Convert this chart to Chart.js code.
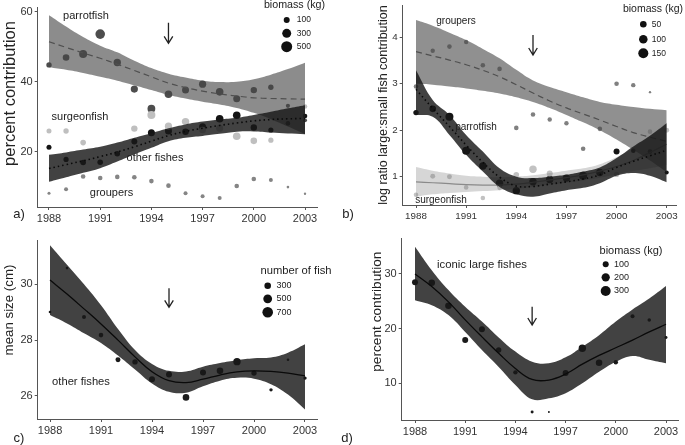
<!DOCTYPE html>
<html>
<head>
<meta charset="utf-8">
<script src="https://cdn.jsdelivr.net/npm/chart.js@4.4.0/dist/chart.umd.min.js"></script>
<style>
  body { margin: 0; background: #fff; width: 685px; height: 445px; overflow: hidden; position: relative; }
  canvas { position: absolute; left: 0; top: 0; }
</style>
</head>
<body>
<canvas id="a" width="685" height="445"></canvas>
<canvas id="b" width="685" height="445"></canvas>
<canvas id="c" width="685" height="445"></canvas>
<canvas id="d" width="685" height="445"></canvas>
<script>
// years and x ticks shared by all panels
const years = [1988, 1989, 1990, 1991, 1992, 1993, 1994, 1995, 1996, 1997, 1998, 1999, 2000, 2001, 2002, 2003];
const xTicks = [1988, 1991, 1994, 1997, 2000, 2003];

// a) percent contribution to biomass
const aParrot   = [44.8, 46.9, 47.9, 53.6, 45.5, 37.9, 32.3, 36.4, 37.6, 39.3, 37.1, 35.1, 37.6, 38.4, 33.1, 29.0];
const aParrotKg = [72, 132, 223, 357, 181, 168, 209, 195, 156, 168, 195, 156, 121, 72, 31, 26];
const aSurgeon   = [25.9, 25.9, 22.6, null, null, 26.6, 30.5, 27.3, 28.6, 26.2, 26.7, 24.4, 23.1, 23.3, null, 32.9];
const aSurgeonKg = [57, 72, 81, null, null, 121, 223, 168, 181, 132, 156, 195, 132, 64, null, 43];
const aOther   = [21.3, 17.8, 16.9, 17.0, 19.4, 22.9, 25.4, 25.9, 25.7, 27.1, 29.4, 30.4, 26.9, 26.2, 28.1, 30.2];
const aOtherKg = [57, 64, 81, 81, 81, 100, 156, 156, 132, 156, 195, 195, 121, 64, 43, 43];
const aGrouper   = [8.1, 9.3, 12.9, 12.5, 12.8, 12.7, 11.6, 10.3, 8.1, 7.3, 6.8, 10.2, 12.2, 11.9, 9.9, 8.0];
const aGrouperKg = [7, 26, 43, 43, 43, 43, 43, 43, 26, 26, 26, 43, 43, 26, 3, 1];
const aParrotFit = [51.4, 49.8, 48.2, 46.7, 45.0, 43.2, 41.4, 39.6, 38.3, 37.3, 36.5, 35.9, 35.4, 35.2, 35.1, 35.0];
const aParrotHi  = [59.0, 55.8, 52.8, 50.3, 48.4, 46.0, 43.9, 42.3, 41.2, 40.3, 39.9, 40.0, 40.7, 42.0, 43.6, 45.4];
const aParrotLo  = [44.1, 43.4, 42.5, 41.4, 40.3, 39.0, 37.6, 36.2, 35.2, 34.3, 33.5, 32.5, 31.1, 29.3, 27.2, 25.0];
const aOtherFit = [15.2, 16.3, 17.4, 18.6, 19.9, 21.4, 23.0, 24.6, 25.8, 26.7, 27.5, 28.2, 28.8, 29.2, 29.4, 29.5];
const aOtherHi  = [19.1, 19.8, 20.6, 21.4, 22.6, 24.0, 25.3, 26.7, 27.8, 28.6, 29.2, 29.7, 30.5, 31.4, 32.4, 33.3];
const aOtherLo  = [11.4, 12.7, 14.0, 15.3, 17.2, 19.2, 21.1, 23.0, 24.0, 24.5, 25.1, 25.7, 25.8, 25.5, 25.2, 25.0];
const aYTicks = [20, 40, 60];
const aLegend = [100, 300, 500];

// b) log ratio large:small fish
const bGrouper   = [2.94, 3.71, 3.80, 3.90, 3.40, 3.32, 2.05, 2.34, 2.23, 2.15, 1.60, 2.03, 3.00, 2.97, 2.82, null];
const bGrouperKg = [16, 14, 16, 14, 16, 16, 16, 16, 14, 14, 16, 16, 16, 14, 0.5, null];
const bParrot   = [2.38, 2.46, 2.29, 1.56, 1.23, 0.86, 0.70, 0.89, 0.94, 0.97, 1.02, 1.09, 1.54, 1.56, 1.54, 1.09];
const bParrotKg = [27, 50, 85, 85, 69, 69, 69, 69, 69, 69, 85, 69, 38, 16, 16, 10];
const bSurgeon   = [0.61, 1.01, 1.00, 0.77, 0.54, 0.76, 1.04, 1.16, 1.07, null, null, null, 1.05, null, 1.97, 2.00];
const bSurgeonKg = [16, 21, 21, 16, 16, 16, 31, 69, 38, null, null, null, 27, null, 16, 21];
const bGrouperFit = [3.69, 3.60, 3.51, 3.41, 3.29, 3.15, 2.98, 2.80, 2.63, 2.48, 2.35, 2.22, 2.08, 1.95, 1.85, 1.76];
const bGrouperHi  = [4.37, 4.25, 4.10, 3.94, 3.75, 3.55, 3.30, 3.07, 2.93, 2.82, 2.71, 2.61, 2.55, 2.50, 2.46, 2.43];
const bGrouperLo  = [3.00, 2.98, 2.94, 2.90, 2.85, 2.79, 2.71, 2.61, 2.48, 2.33, 2.17, 2.00, 1.80, 1.58, 1.35, 1.10];
const bParrotFit = [2.88, 2.47, 2.08, 1.68, 1.31, 0.99, 0.80, 0.79, 0.84, 0.89, 0.95, 1.04, 1.20, 1.33, 1.45, 1.57];
const bParrotHi  = [3.29, 2.65, 2.33, 1.90, 1.54, 1.18, 1.00, 0.97, 1.00, 1.04, 1.11, 1.20, 1.40, 1.65, 1.88, 2.15];
const bParrotLo  = [2.33, 2.29, 1.90, 1.47, 1.11, 0.78, 0.62, 0.57, 0.64, 0.71, 0.76, 0.86, 1.02, 1.08, 1.02, 0.88];
const bSurgeonFit = [0.89, 0.87, 0.85, 0.83, 0.82, 0.82, 0.84, 0.88, 0.93, 0.98, 1.04, 1.12, 1.22, 1.35, 1.52, 1.70];
const bSurgeonHi  = [1.21, 1.13, 1.07, 1.02, 1.00, 0.99, 1.00, 1.03, 1.08, 1.13, 1.18, 1.27, 1.42, 1.62, 1.88, 2.16];
const bSurgeonLo  = [0.57, 0.62, 0.65, 0.67, 0.69, 0.71, 0.74, 0.78, 0.83, 0.87, 0.92, 0.98, 1.05, 1.12, 1.18, 1.25];
const bYTicks = [1, 2, 3, 4];
const bLegend = [50, 100, 150];

// c) mean size of other fishes
const cSize = [29.01, 30.58, 28.83, 28.18, 27.30, 27.22, 26.60, 26.77, 25.95, 26.84, 26.90, 27.23, 26.82, 26.22, 27.30, 26.64];
const cFish = [67, 67, 129, 162, 186, 212, 254, 254, 300, 254, 300, 366, 212, 100, 67, 100];
const cFit = [30.15, 29.65, 29.12, 28.58, 28.00, 27.40, 26.87, 26.55, 26.48, 26.60, 26.75, 26.86, 26.90, 26.88, 26.82, 26.72];
const cHi  = [31.40, 30.70, 30.00, 29.25, 28.40, 27.65, 27.15, 26.90, 26.88, 27.05, 27.18, 27.28, 27.35, 27.38, 27.55, 27.85];
const cLo  = [28.90, 28.60, 28.25, 27.90, 27.45, 26.95, 26.45, 26.15, 26.12, 26.35, 26.55, 26.65, 26.62, 26.42, 26.05, 25.52];
const cYTicks = [26, 28, 30];
const cLegend = [300, 500, 700];

// d) iconic large fishes
const dPct = [28.47, 28.40, 24.20, 17.90, 19.87, 16.10, 12.00, 4.75, 4.75, 11.90, 16.40, 13.77, 13.84, 22.25, 21.57, 18.40];
const dKg  = [100, 123, 123, 100, 100, 79, 50, 20, 7, 100, 158, 123, 50, 40, 31, 20];
const dFit = [30.0, 27.7, 24.9, 21.6, 18.5, 15.5, 12.7, 10.7, 10.6, 11.7, 13.5, 15.1, 16.5, 17.9, 19.4, 20.8];
const dHi  = [35.0, 30.7, 27.05, 24.0, 21.3, 18.4, 15.8, 13.95, 13.66, 14.75, 16.7, 18.8, 21.3, 23.5, 25.5, 27.8];
const dLo  = [25.2, 24.3, 22.5, 19.4, 16.1, 13.0, 9.7, 7.07, 7.25, 8.2, 10.0, 12.1, 13.95, 15.0, 14.3, 13.66];
const dYTicks = [10, 20, 30];
const dLegend = [100, 200, 300];

const FONT = '"Liberation Sans", Arial, sans-serif';
const YW = 24, XH = 20;
const DARK = 'rgba(25,25,25,0.82)';

// radius from sqrt of the value, fitted through two legend sizes
function sizeScale(v0, r0, v1, r1) {
  const b = (r1 - r0) / (Math.sqrt(v1) - Math.sqrt(v0));
  const a = r0 - b * Math.sqrt(v0);
  return v => Math.max(0.8, a + b * Math.sqrt(v));
}

function pts(vals, kg, size) {
  const out = [];
  years.forEach((x, i) => { if (vals[i] != null) out.push({ x: x, y: vals[i], r: size(kg[i]) }); });
  return out;
}

function line(vals, order, fill) {
  return {
    type: 'line', data: years.map((x, i) => ({ x: x, y: vals[i] })),
    borderColor: 'transparent', borderWidth: 0, pointRadius: 0, tension: 0.4, fill: fill, order: order
  };
}

function decor(p) {
  return {
    id: 'decor',
    afterDraw(chart) {
      const ctx = chart.ctx;
      const xs = chart.scales.x;
      ctx.save();
      ctx.fillStyle = '#222';
      ctx.textBaseline = 'middle';
      ctx.textAlign = 'center';
      ctx.font = p.noteSize + 'px ' + FONT;
      p.notes.forEach(n => ctx.fillText(n[0], n[1], n[2]));

      // arrow at 1995
      const ax = xs.getPixelForValue(1995);
      ctx.strokeStyle = '#222';
      ctx.lineWidth = 1.3;
      ctx.beginPath();
      ctx.moveTo(ax, p.arrow[0]); ctx.lineTo(ax, p.arrow[1]);
      ctx.moveTo(ax - 4.3, p.arrow[1] - 7); ctx.lineTo(ax, p.arrow[1]); ctx.lineTo(ax + 4.3, p.arrow[1] - 7);
      ctx.stroke();

      // size legend
      const L = p.legend;
      ctx.font = L.titleSize + 'px ' + FONT;
      ctx.fillText(L.title, L.tx, L.ty);
      ctx.font = L.labelSize + 'px ' + FONT;
      ctx.textAlign = 'left';
      L.values.forEach((v, i) => {
        ctx.fillStyle = '#111';
        ctx.beginPath(); ctx.arc(L.dx, L.dy[i], p.size(v), 0, Math.PI * 2); ctx.fill();
        ctx.fillStyle = '#222';
        ctx.fillText(String(v), L.lx, L.dy[i]);
      });

      // panel letter
      ctx.textAlign = 'center';
      ctx.font = '13px ' + FONT;
      ctx.fillText(p.letter[0], p.letter[1], p.letter[2]);

      // y title
      ctx.translate(p.yTitle[1], p.yTitle[2]);
      ctx.rotate(-Math.PI / 2);
      ctx.font = p.yTitle[3] + 'px ' + FONT;
      ctx.fillText(p.yTitle[0], 0, 0);
      ctx.restore();
    }
  };
}

function makePanel(id, p) {
  const datasets = [];
  p.points.forEach(s => datasets.push({
    type: 'bubble', data: pts(s.vals, s.kg, p.size), backgroundColor: s.color, borderWidth: 0, order: 90
  }));
  p.fits.forEach((f, k) => {
    const ord = 60 - k * 10;
    datasets.push(line(f.lo, ord, false));
    datasets.push(Object.assign(line(f.hi, ord, '-1'), { backgroundColor: f.band }));
    datasets.push(Object.assign(line(f.mid, ord - 5, false), { borderColor: f.color, borderDash: f.dash, borderWidth: f.width }));
  });
  const tickFont = { family: FONT, size: p.tick };
  new Chart(document.getElementById(id), {
    type: 'scatter',
    data: { datasets: datasets },
    options: {
      responsive: false, animation: false, devicePixelRatio: 1, events: [],
      layout: { padding: { left: p.area[0] - YW, right: 685 - p.area[1], top: p.area[2], bottom: 445 - p.area[3] - XH } },
      plugins: { legend: { display: false }, tooltip: { enabled: false } },
      scales: {
        x: {
          type: 'linear', min: p.xr[0], max: p.xr[1],
          afterBuildTicks: s => { s.ticks = xTicks.map(v => ({ value: v })); },
          afterFit: s => { s.height = XH; s.paddingLeft = 0; s.paddingRight = 0; },
          grid: { drawOnChartArea: false, tickLength: 3, color: '#555' },
          border: { color: '#555' },
          ticks: { font: tickFont, color: '#333', padding: 2, maxRotation: 0, autoSkip: false, callback: v => String(v) }
        },
        y: {
          type: 'linear', min: p.yr[0], max: p.yr[1],
          afterBuildTicks: s => { s.ticks = p.yTicks.map(v => ({ value: v })); },
          afterFit: s => { s.width = YW; s.paddingTop = 0; s.paddingBottom = 0; },
          grid: { drawOnChartArea: false, tickLength: 3, color: '#555' },
          border: { color: '#555' },
          ticks: { font: tickFont, color: '#333', padding: 2, autoSkip: false, callback: v => String(v) }
        }
      }
    },
    plugins: [decor(p)]
  });
}

makePanel('a', {
  area: [37.7, 317, 7, 207], xr: [1987.338, 2003.703], yr: [4.2, 61.34], yTicks: aYTicks, tick: 11,
  size: sizeScale(100, 3, 500, 5.5),
  points: [
    { vals: aGrouper, kg: aGrouperKg, color: '#858585' },
    { vals: aSurgeon, kg: aSurgeonKg, color: '#bfbfbf' },
    { vals: aParrot, kg: aParrotKg, color: '#4d4d4d' },
    { vals: aOther, kg: aOtherKg, color: '#141414' }
  ],
  fits: [
    { lo: aParrotLo, hi: aParrotHi, mid: aParrotFit, band: 'rgba(70,70,70,0.62)', color: '#505050', dash: [6, 4], width: 1.2 },
    { lo: aOtherLo, hi: aOtherHi, mid: aOtherFit, band: DARK, color: '#0a0a0a', dash: [1.5, 3], width: 1.6 }
  ],
  noteSize: 11,
  notes: [['parrotfish', 86, 16], ['surgeonfish', 80, 116.5], ['other fishes', 155, 158], ['groupers', 111.5, 193]],
  arrow: [22.7, 43.3],
  legend: { title: 'biomass (kg)', tx: 294.5, ty: 5.5, titleSize: 10.7, labelSize: 8.5, values: aLegend, dx: 286.7, dy: [20, 33.3, 46.7], lx: 296.7 },
  letter: ['a)', 19, 214],
  yTitle: ['percent contribution', 10, 93.5, 16.5]
});

makePanel('b', {
  area: [402.7, 676, 5, 205], xr: [1987.204, 2003.556], yr: [0.391, 4.695], yTicks: bYTicks, tick: 9.8,
  size: sizeScale(50, 3.3, 150, 5.0),
  points: [
    { vals: bSurgeon, kg: bSurgeonKg, color: '#c2c2c2' },
    { vals: bGrouper, kg: bGrouperKg, color: '#808080' },
    { vals: bParrot, kg: bParrotKg, color: '#141414' }
  ],
  fits: [
    { lo: bSurgeonLo, hi: bSurgeonHi, mid: bSurgeonFit, band: 'rgba(120,120,120,0.3)', color: '#8a8a8a', dash: [], width: 1.2 },
    { lo: bGrouperLo, hi: bGrouperHi, mid: bGrouperFit, band: 'rgba(70,70,70,0.6)', color: '#505050', dash: [6, 4], width: 1.2 },
    { lo: bParrotLo, hi: bParrotHi, mid: bParrotFit, band: DARK, color: '#0a0a0a', dash: [1.5, 3], width: 1.6 }
  ],
  noteSize: 10,
  notes: [['groupers', 456, 21], ['parrotfish', 476, 127], ['surgeonfish', 441, 200]],
  arrow: [35, 55],
  legend: { title: 'biomass (kg)', tx: 653, ty: 9.2, titleSize: 10.5, labelSize: 8.5, values: bLegend, dx: 643.3, dy: [24.3, 39.3, 53.3], lx: 651.7 },
  letter: ['b)', 348, 214],
  yTitle: ['log ratio large:small fish contribution', 383.3, 105, 12.5]
});

makePanel('c', {
  area: [37.7, 317, 240.7, 419], xr: [1987.276, 2003.706], yr: [25.176, 31.561], yTicks: cYTicks, tick: 11,
  size: sizeScale(300, 3.3, 700, 5.3),
  points: [{ vals: cSize, kg: cFish, color: '#1a1a1a' }],
  fits: [{ lo: cLo, hi: cHi, mid: cFit, band: DARK, color: '#0a0a0a', dash: [], width: 1.3 }],
  noteSize: 11.2,
  notes: [['other fishes', 81, 381.7]],
  arrow: [288.3, 307.3],
  legend: { title: 'number of fish', tx: 296, ty: 271.3, titleSize: 11.2, labelSize: 9, values: cLegend, dx: 267.7, dy: [285.7, 298.8, 312.3], lx: 276.5 },
  letter: ['c)', 19, 438],
  yTitle: ['mean size (cm)', 9.5, 310, 13.3]
});

makePanel('d', {
  area: [401.7, 678, 238.3, 420], xr: [1987.205, 2003.717], yr: [3.285, 36.53], yTicks: dYTicks, tick: 11,
  size: sizeScale(100, 3, 300, 5),
  points: [{ vals: dPct, kg: dKg, color: '#1a1a1a' }],
  fits: [{ lo: dLo, hi: dHi, mid: dFit, band: DARK, color: '#0a0a0a', dash: [], width: 1.3 }],
  noteSize: 11.3,
  notes: [['iconic large fishes', 482, 264.5]],
  arrow: [306.7, 325],
  legend: { title: 'biomass (kg)', tx: 631, ty: 250.8, titleSize: 11, labelSize: 9, values: dLegend, dx: 605.7, dy: [264.3, 277.3, 291], lx: 614 },
  letter: ['d)', 347, 438],
  yTitle: ['percent contribution', 377.5, 311.7, 13.7]
});
</script>
</body>
</html>
